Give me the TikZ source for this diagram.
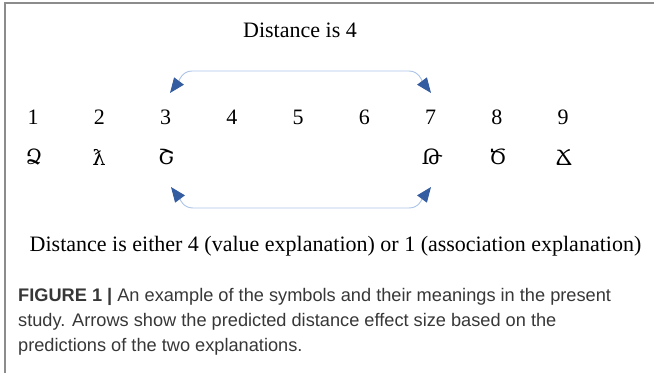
\documentclass[tikz,border=0pt]{standalone}
\usepackage{fontspec}
\setmainfont{Liberation Serif}
\newfontfamily\capfont{Liberation Sans}
\newfontfamily\armfont{DejaVu Serif}
\usetikzlibrary{arrows.meta,calc}
\definecolor{arrowc}{RGB}{52,92,160}
\definecolor{linkc}{RGB}{170,195,230}
\definecolor{framec}{RGB}{140,140,140}
\definecolor{capc}{RGB}{55,55,55}

\begin{document}
\begin{tikzpicture}[x=1pt,y=-1pt,
  every node/.style={font=\fontsize{22}{26}\selectfont},
  glyph/.style={font=\armfont\fontsize{21}{24}\selectfont},
  link/.style={draw=linkc,line width=0.9pt,
    {Triangle[length=15pt,width=12pt,color=arrowc]}-{Triangle[length=15pt,width=12pt,color=arrowc]}}]
  \useasboundingbox (0,0) rectangle (654,373);
  \draw[framec,line width=1.3pt] (5,373) -- (5,3) -- (654,3);
  \node (top) at (300,30) {Distance is 4};
  % positions 1..9
  \foreach \i in {1,...,9}
    \node (n\i) at ({33+66.25*(\i-1)},117) {\i};
  \node[glyph] (s1) at (34,157) {Ձ};
  \node[glyph] (s2) at (99,157) {ƛ};
  \node[glyph] (s3) at (166,157) {Շ};
  \node[glyph] (s7) at (432,157) {Թ};
  \node[glyph] (s8) at (498,157) {Ծ};
  \node[glyph] (s9) at (564,157) {Ճ};
  \coordinate (tl) at (170,93);
  \coordinate (tr) at (431,93);
  \coordinate (bl) at (171,187);
  \coordinate (br) at (431,187);
  \draw[link] (tl) .. controls +(9,-12) and +(-10,0) .. ($(tl)+(22,-22)$)
    -- ($(tr)+(-22,-22)$) .. controls +(10,0) and +(-9,-12) .. (tr);
  \draw[link] (bl) .. controls +(9,12) and +(-10,0) .. ($(bl)+(22,21)$)
    -- ($(br)+(-22,21)$) .. controls +(10,0) and +(-9,12) .. (br);
  \node (bottom) at (335.5,246) {Distance is either 4 (value explanation) or 1 (association explanation)};
  \node[anchor=north west,align=left,inner sep=0pt,text=capc,
    font=\capfont\fontsize{18.2}{25}\selectfont] (cap) at (18,288)
    {\textbf{FIGURE 1 |} An example of the symbols and their meanings in the present\\
     study. Arrows show the predicted distance effect size based on the\\
     predictions of the two explanations.};
\end{tikzpicture}
\end{document}
